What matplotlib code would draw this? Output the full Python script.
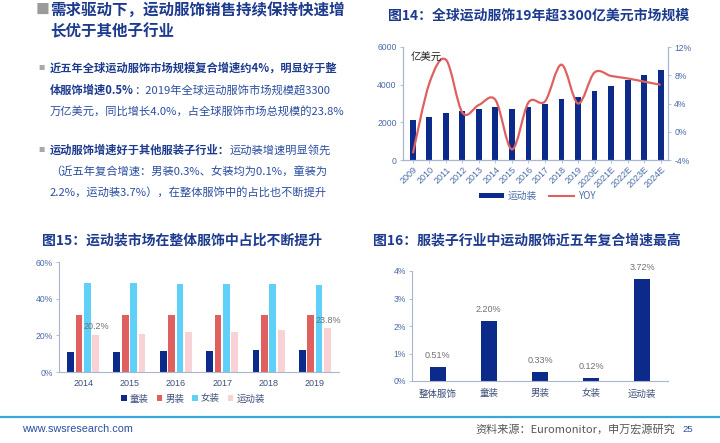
import matplotlib
matplotlib.use("Agg")
import matplotlib.pyplot as plt
from matplotlib.path import Path
from matplotlib.patches import PathPatch, Patch
from matplotlib.lines import Line2D
import numpy as np

plt.rcParams['font.family'] = ['Noto Sans CJK SC', 'DejaVu Sans']

# ---------------- data ----------------
years14 = ['2009', '2010', '2011', '2012', '2013', '2014', '2015', '2016', '2017',
           '2018', '2019', '2020E', '2021E', '2022E', '2023E', '2024E']
sales14 = [2130, 2300, 2520, 2590, 2700, 2800, 2730, 2840, 2960, 3250, 3370,
           3640, 3940, 4225, 4510, 4790]
yoy14 = [-3.05, 6.9, 10.2, 2.7, 3.8, 4.5, -2.5, 4.15, 4.3, 9.5, 4.0, 8.4, 7.9,
         7.55, 7.1, 6.65]

years15 = ['2014', '2015', '2016', '2017', '2018', '2019']
kids15 = [11.0, 11.0, 11.3, 11.7, 11.8, 12.2]
men15 = [31.2, 31.2, 31.0, 31.0, 30.9, 30.9]
women15 = [48.5, 48.3, 48.1, 48.0, 47.9, 47.6]
sport15 = [20.2, 20.8, 21.8, 21.8, 22.8, 23.8]
series15_names = ['童装', '男装', '女装', '运动装']

cats16 = ['整体服饰', '童装', '男装', '女装', '运动装']
cagr16 = [0.51, 2.20, 0.33, 0.12, 3.72]

# ---------------- styles ----------------
W, H = 720, 443
NAVY = '#0b2a8a'
RED = '#e06060'
CYAN = '#5fd0f7'
PINK = '#f9d2d5'
TITLE = '#1c3a8e'
TXT = '#2b4ea0'
TICK = '#4a6aa8'
SPINE = '#a9b6cf'

fig = plt.figure(figsize=(W / 100, H / 100), dpi=100)


def rect(l, t, r, b):
    return [l / W, 1 - b / H, (r - l) / W, (b - t) / H]


def fx(x):
    return x / W


def fy(y):
    return 1 - y / H


renderer = fig.canvas.get_renderer()


def seg_text(x, y, parts, size):
    """Draw a line made of (text, weight, color) parts."""
    cx = x
    for s, w, c in parts:
        t = fig.text(fx(cx), fy(y), s, fontsize=size, fontweight=w, color=c,
                     va='center', ha='left')
        bb = t.get_window_extent(renderer=renderer)
        cx += bb.width


# ---------------- header text ----------------
fig.text(fx(36), fy(10), '■', fontsize=10, color='#9a9a9a', va='center', ha='left')
fig.text(fx(50), fy(10), '需求驱动下，运动服饰销售持续保持快速增', fontsize=11.2,
         fontweight='bold', color=TITLE, va='center', ha='left')
fig.text(fx(50), fy(31), '长优于其他子行业', fontsize=11.2,
         fontweight='bold', color=TITLE, va='center', ha='left')

fig.text(fx(38), fy(68.5), '■', fontsize=4.5, color='#a8a8a8', va='center', ha='left')
seg_text(50, 68.5, [('近五年全球运动服饰市场规模复合增速约4%，明显好于整', 'bold', TITLE)], 8.1)
seg_text(50, 90, [('体服饰增速0.5%', 'bold', TITLE),
                  ('：2019年全球运动服饰市场规模超3300', 'normal', TXT)], 8.1)
seg_text(50, 111.5, [('万亿美元，同比增长4.0%，占全球服饰市场总规模的23.8%', 'normal', TXT)], 8.1)

fig.text(fx(38), fy(150), '■', fontsize=4.5, color='#a8a8a8', va='center', ha='left')
seg_text(50, 150, [('运动服饰增速好于其他服装子行业：', 'bold', TITLE),
                   ('运动装增速明显领先', 'normal', TXT)], 8.1)
seg_text(50, 171, [('（近五年复合增速：男装0.3%、女装均为0.1%，童装为', 'normal', TXT)], 8.1)
seg_text(50, 192, [('2.2%，运动装3.7%），在整体服饰中的占比也不断提升', 'normal', TXT)], 8.1)

# ---------------- chart 14 ----------------
fig.text(fx(539), fy(16), '图14：全球运动服饰19年超3300亿美元市场规模', fontsize=10,
         fontweight='bold', color=TITLE, va='center', ha='center')
ax1 = fig.add_axes(rect(403, 47, 668, 160))
x14 = np.arange(len(years14))
ax1.bar(x14, sales14, width=0.36, color=NAVY, zorder=2)
ax1.set_xlim(-0.6, len(years14) - 0.55)
ax1.set_ylim(0, 6000)
ax1.set_yticks([0, 2000, 4000, 6000])
ax1.set_xticks(x14)
ax1.set_xticklabels(years14, rotation=45, ha='right', rotation_mode='anchor')
ax2 = ax1.twinx()
ax2.set_ylim(-4, 12)
ax2.set_yticks([-4, 0, 4, 8, 12])
ax2.set_yticklabels([f'{v}%' for v in [-4, 0, 4, 8, 12]])


def smooth_path(xs, ys, t=1 / 6):
    n = len(xs)
    verts = [(xs[0], ys[0])]
    codes = [Path.MOVETO]
    for i in range(n - 1):
        p0 = i - 1 if i > 0 else i
        p3 = i + 2 if i + 2 < n else i + 1
        c1 = (xs[i] + (xs[i + 1] - xs[p0]) * t, ys[i] + (ys[i + 1] - ys[p0]) * t)
        c2 = (xs[i + 1] - (xs[p3] - xs[i]) * t, ys[i + 1] - (ys[p3] - ys[i]) * t)
        verts += [c1, c2, (xs[i + 1], ys[i + 1])]
        codes += [Path.CURVE4] * 3
    return Path(verts, codes)


ax2.add_patch(PathPatch(smooth_path(list(x14), yoy14), fill=False, edgecolor=RED,
                        lw=1.6, zorder=3))
for a in (ax1, ax2):
    a.spines['top'].set_visible(False)
    for s in ('left', 'right', 'bottom'):
        a.spines[s].set_color(SPINE)
        a.spines[s].set_linewidth(0.8)
    a.tick_params(colors=TICK, labelsize=6.2, length=2.5, width=0.6, pad=2,
                  labelfontfamily='Liberation Sans')
    a.tick_params(axis='both', color=SPINE)
ax1.tick_params(axis='x', length=2.5, pad=1, labelsize=6.5)
fig.text(fx(411), fy(58), '亿美元', fontsize=7.5, color='#222222', va='center', ha='left')

h1 = [Patch(facecolor=NAVY, edgecolor='none'), Line2D([], [], color=RED, lw=1.5)]
fig.legend(h1, ['运动装', 'YOY'], loc='center', bbox_to_anchor=(fx(537), fy(196)),
           ncol=2, frameon=False, fontsize=7, handlelength=2.6, handleheight=0.45,
           columnspacing=1.2, handletextpad=0.4, labelcolor=TICK)

# ---------------- chart 15 ----------------
fig.text(fx(182), fy(240), '图15：运动装市场在整体服饰中占比不断提升', fontsize=10,
         fontweight='bold', color=TITLE, va='center', ha='center')
ax3 = fig.add_axes(rect(59, 262, 339, 372))
x15 = np.arange(len(years15))
cols15 = [NAVY, RED, CYAN, PINK]
bw = 0.145
offs = [-1.5, -0.5, 0.5, 1.5]
for vals, c, o, nm in zip([kids15, men15, women15, sport15], cols15, offs, series15_names):
    ax3.bar(x15 + o * 0.182, vals, width=bw, color=c, label=nm, zorder=2)
ax3.set_xlim(-0.52, len(years15) - 0.48)
ax3.set_ylim(0, 60)
ax3.set_yticks([0, 20, 40, 60])
ax3.set_yticklabels(['0%', '20%', '40%', '60%'])
ax3.set_xticks(x15)
ax3.set_xticklabels(years15)
for idx in (0, len(years15) - 1):
    ax3.annotate(f'{sport15[idx]}%', (x15[idx] + 1.5 * 0.182, sport15[idx]),
                 xytext=(0.5, 2.5), textcoords='offset points', ha='center',
                 va='bottom', fontsize=6.5, color='#707070', family='Liberation Sans',
                 zorder=5)
for s in ('top', 'right'):
    ax3.spines[s].set_visible(False)
for s in ('left', 'bottom'):
    ax3.spines[s].set_color(SPINE)
    ax3.spines[s].set_linewidth(0.8)
ax3.tick_params(axis='y', colors=TICK, labelsize=6.2, length=2.5, width=0.6, pad=2,
                labelfontfamily='Liberation Sans')
ax3.tick_params(axis='y', color=SPINE)
ax3.tick_params(axis='x', length=0, labelsize=6.5, labelcolor='#3d4f7a', pad=5,
                labelfontfamily='Liberation Sans')
h3 = [Patch(facecolor=c, edgecolor='none') for c in cols15]
fig.legend(h3, series15_names, loc='center', bbox_to_anchor=(fx(193), fy(399)),
           ncol=4, frameon=False, fontsize=6.8, handlelength=0.6, handleheight=0.6,
           columnspacing=0.8, handletextpad=0.35, labelcolor='#3d4f7a')

# ---------------- chart 16 ----------------
fig.text(fx(373), fy(240), '图16：服装子行业中运动服饰近五年复合增速最高', fontsize=10,
         fontweight='bold', color=TITLE, va='center', ha='left')
ax4 = fig.add_axes(rect(412, 271, 668, 381))
x16 = np.arange(len(cats16))
ax4.bar(x16, cagr16, width=0.31, color=NAVY, zorder=2)
for xi, v in zip(x16, cagr16):
    ax4.annotate(f'{v:.2f}%', (xi, v), xytext=(0, 5), textcoords='offset points',
                 ha='center', va='bottom', fontsize=6.5, color='#707070',
                 family='Liberation Sans')
ax4.set_xlim(-0.5, len(cats16) - 0.5)
ax4.set_ylim(0, 4)
ax4.set_yticks([0, 1, 2, 3, 4])
ax4.set_yticklabels(['0%', '1%', '2%', '3%', '4%'])
ax4.set_xticks(x16)
ax4.set_xticklabels(cats16)
for s in ('top', 'right'):
    ax4.spines[s].set_visible(False)
for s in ('left', 'bottom'):
    ax4.spines[s].set_color(SPINE)
    ax4.spines[s].set_linewidth(0.8)
ax4.tick_params(axis='y', colors=TICK, labelsize=6.2, length=2.5, width=0.6, pad=2,
                labelfontfamily='Liberation Sans')
ax4.tick_params(axis='y', color=SPINE)
ax4.tick_params(axis='x', length=0, labelsize=6.8, labelcolor='#3d4f7a', pad=6)

# ---------------- footer ----------------
fig.add_artist(Line2D([0, 1], [fy(417), fy(417)], color='#3ba6dc', lw=1.6,
                      transform=fig.transFigure))
fig.text(fx(22), fy(429), 'www.swsresearch.com', fontsize=7.8, color='#2b4ea0',
         va='center', ha='left', family='Liberation Sans')
fig.text(fx(675), fy(429), '资料来源：Euromonitor，申万宏源研究', fontsize=8,
         color='#555555', va='center', ha='right')
fig.text(fx(682), fy(429), '25', fontsize=6.8, color='#2b4ea0', va='center',
         ha='left', family='Liberation Sans')

fig.savefig('out.png', dpi=100)
